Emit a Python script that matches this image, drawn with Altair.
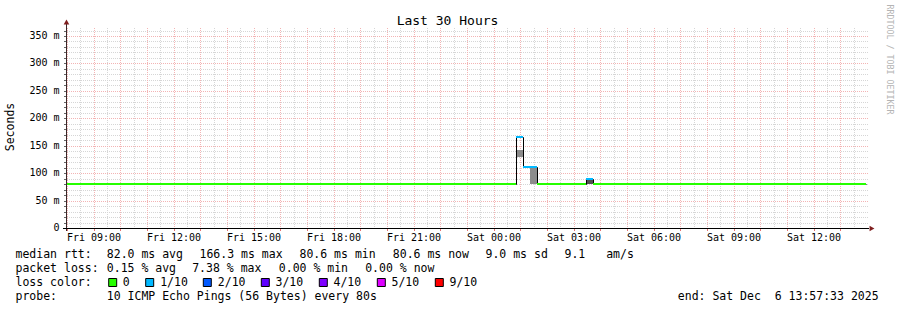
import altair as alt
import pandas as pd

# ------------------------------------------------------------------ data
# median RTT steps (time in UTC, value in ms) and loss level for each step
step_start = ["2025-12-05T07:57:33Z", "2025-12-06T00:49:20Z", "2025-12-06T01:05:00Z",
              "2025-12-06T01:36:40Z", "2025-12-06T03:27:30Z", "2025-12-06T03:44:00Z"]
step_end = ["2025-12-06T00:49:20Z", "2025-12-06T01:05:00Z", "2025-12-06T01:36:40Z",
            "2025-12-06T03:27:30Z", "2025-12-06T03:44:00Z", "2025-12-06T13:57:33Z"]
median_ms = [80.6, 166.3, 110.4, 80.6, 89.2, 80.6]
loss_level = ["0", "1/10", "1/10", "0", "1/10", "0"]

# smoke (spread of the pings)
smoke_start = ["2025-12-06T00:49:20Z", "2025-12-06T01:20:50Z", "2025-12-06T03:27:30Z"]
smoke_end = ["2025-12-06T01:05:00Z", "2025-12-06T01:36:40Z", "2025-12-06T03:44:00Z"]
smoke_low = [129.8, 80.6, 80.6]
smoke_high = [142.5, 109.0, 88.0]
smoke_shade = ["light", "light", "dark"]

# loss colour legend
loss_labels = ["0", "1/10", "2/10", "3/10", "4/10", "5/10", "9/10"]
loss_colors = ["#26ff00", "#00b8ff", "#0059ff", "#5e00ff", "#7e00ff", "#dd00ff", "#ff0000"]

# axis ticks
y_ticks = [0, 50, 100, 150, 200, 250, 300, 350]
y_tick_labels = ["0  ", "50 m", "100 m", "150 m", "200 m", "250 m", "300 m", "350 m"]
x_tick_times = ["2025-12-05T09:00:00Z", "2025-12-05T12:00:00Z", "2025-12-05T15:00:00Z",
                "2025-12-05T18:00:00Z", "2025-12-05T21:00:00Z", "2025-12-06T00:00:00Z",
                "2025-12-06T03:00:00Z", "2025-12-06T06:00:00Z", "2025-12-06T09:00:00Z",
                "2025-12-06T12:00:00Z"]
x_tick_labels = ["Fri 09:00", "Fri 12:00", "Fri 15:00", "Fri 18:00", "Fri 21:00",
                 "Sat 00:00", "Sat 03:00", "Sat 06:00", "Sat 09:00", "Sat 12:00"]
range_start = "2025-12-05T07:57:33Z"
range_end = "2025-12-06T13:57:33Z"
y_max = 364.6

# texts
title_text = "Last 30 Hours"
y_title = "Seconds"
watermark = "RRDTOOL / TOBI OETIKER"
rtt_head = "median rtt:"
rtt_stats = ["82.0 ms avg", "166.3 ms max", "80.6 ms min", "80.6 ms now", "9.0 ms sd", "9.1", "am/s"]
loss_head = "packet loss:"
loss_stats = ["0.15 % avg", "7.38 % max", "0.00 % min", "0.00 % now"]
color_head = "loss color:"
probe_head = "probe:"
probe_text = "10 ICMP Echo Pings (56 Bytes) every 80s"
end_text = "end: Sat Dec  6 13:57:33 2025"

# ------------------------------------------------------------------ layout / style
W, H = 800, 200
PL, PT = 66, 28
FONT = "DejaVu Sans Mono"
NB = "\u00a0"
MINOR = "#d6d6d6"
MAJOR = "#f3b4b4"
SMOKE_COL = {"light": "#8c8c8c", "dark": "#505050"}
LOSS_COL = dict(zip(loss_labels, loss_colors))


def ms(s):
    return int(pd.Timestamp(s).timestamp() * 1000)


def nb(s):
    return s.replace(" ", NB)


xscale = alt.Scale(type="utc", domain=[ms(range_start), ms(range_end)], round=True)
yscale = alt.Scale(domain=[0, y_max], nice=False, zero=False, round=True)

# grid positions
half_hours = pd.date_range("2025-12-05T08:00:00Z", "2025-12-06T13:30:00Z", freq="30min")
vgrid = pd.DataFrame({
    "t": [t.strftime("%Y-%m-%dT%H:%M:%SZ") for t in half_hours],
    "major": [t.minute == 0 for t in half_hours],
})
hvals = list(range(10, 361, 10))
hgrid = pd.DataFrame({"v": hvals, "major": [v % 50 == 0 for v in hvals]})


def vrule(df, col):
    return alt.Chart(df).mark_rule(color=col, strokeDash=[1, 1], strokeWidth=1, xOffset=0.5).encode(
        x=alt.X("t:T", scale=xscale, axis=None), y=alt.value(0), y2=alt.value(H))


def hrule(df, col):
    return alt.Chart(df).mark_rule(color=col, strokeDash=[1, 1], strokeWidth=1, yOffset=0.5).encode(
        y=alt.Y("v:Q", scale=yscale, axis=None), x=alt.value(1), x2=alt.value(W + 3))


g_v_minor = vrule(vgrid[~vgrid.major], MINOR)
g_h_minor = hrule(hgrid[~hgrid.major], MINOR)
g_v_major = vrule(vgrid[vgrid.major], MAJOR)
g_h_major = hrule(hgrid[hgrid.major], MAJOR)
x_small_ticks = alt.Chart(vgrid[vgrid.major]).mark_rule(color="#e07070", strokeWidth=1, xOffset=0.5).encode(
    x=alt.X("t:T", scale=xscale, axis=None), y=alt.value(H + 1), y2=alt.value(H + 3))
y_small_ticks = alt.Chart(hgrid).mark_rule(color="#666666", strokeWidth=1, yOffset=0.5).encode(
    y=alt.Y("v:Q", scale=yscale, axis=None), x=alt.value(-2), x2=alt.value(0))

# smoke
smoke_df = pd.DataFrame({"s": smoke_start, "e": smoke_end, "lo": smoke_low, "hi": smoke_high,
                         "c": [SMOKE_COL[k] for k in smoke_shade]})
smoke = alt.Chart(smoke_df).mark_rect().encode(
    x=alt.X("s:T", scale=xscale, axis=None), x2="e:T",
    y=alt.Y("lo:Q", scale=yscale, axis=None), y2="hi:Q",
    color=alt.Color("c:N", scale=None))

# black median step line
line_df = pd.DataFrame({"t": step_start + [step_end[-1]], "v": median_ms + [median_ms[-1]]})
median_line = alt.Chart(line_df).mark_line(interpolate="step-after", color="#000000", strokeWidth=1,
                                           xOffset=0.5, yOffset=0.5).encode(
    x=alt.X("t:T", scale=xscale, axis=None),
    y=alt.Y("v:Q", scale=yscale, axis=None))

# coloured median segments
seg_df = pd.DataFrame({"s": step_start, "e": step_end, "v": median_ms,
                       "c": [LOSS_COL[k] for k in loss_level]})
segments = alt.Chart(seg_df).mark_rule(strokeWidth=2).encode(
    x=alt.X("s:T", scale=xscale, axis=None), x2="e:T",
    y=alt.Y("v:Q", scale=yscale, axis=None),
    color=alt.Color("c:N", scale=None))

# tick labels drawn through the shared scales
ylab_df = pd.DataFrame({"v": y_ticks, "txt": [nb(s) for s in y_tick_labels]})
y_labels = alt.Chart(ylab_df).mark_text(align="right", baseline="middle", font=FONT, fontSize=10,
                                        color="#000000").encode(
    y=alt.Y("v:Q", scale=yscale, axis=None), x=alt.value(-6.5), text="txt:N")
xlab_df = pd.DataFrame({"t": x_tick_times, "txt": [nb(s) for s in x_tick_labels]})
x_labels = alt.Chart(xlab_df).mark_text(align="center", baseline="alphabetic", font=FONT, fontSize=10,
                                        color="#000000").encode(
    x=alt.X("t:T", scale=xscale, axis=None), y=alt.value(240.5 - PT), text="txt:N")

# axis lines and arrows
axes_df = pd.DataFrame({"x": [0.5, -3], "x2": [0.5, W + 3], "y": [H + 3, H + 0.5], "y2": [-6, H + 0.5],
                        "c": ["#3a2828", "#000000"]})
axis_lines = alt.Chart(axes_df).mark_rule(strokeWidth=1).encode(
    x=alt.X("x:Q", scale=None, axis=None), x2="x2:Q",
    y=alt.Y("y:Q", scale=None, axis=None), y2="y2:Q",
    color=alt.Color("c:N", scale=None))
arrow_df = pd.DataFrame({"x": [0.5, W + 6], "y": [-6, H + 0.5], "shape": ["triangle-up", "triangle-right"]})
arrows = alt.Chart(arrow_df).mark_point(filled=True, size=32, color="#7f1f1f", opacity=1).encode(
    x=alt.X("x:Q", scale=None, axis=None), y=alt.Y("y:Q", scale=None, axis=None),
    shape=alt.Shape("shape:N", scale=None))

# legend text (left aligned)
rows = []
b1, b2, b3, b4 = 258.3, 272.3, 286.3, 300.3
rows.append((16, b1, rtt_head))
for xx, s in zip([107.3, 200, 300, 393.3, 486, 565, 606.7], rtt_stats):
    rows.append((xx, b1, s))
rows.append((16, b2, loss_head))
for xx, s in zip([107.3, 192.7, 279.3, 365.7], loss_stats):
    rows.append((xx, b2, s))
rows.append((16, b3, color_head))
label_x = [123.3, 160.7, 218.3, 276, 334, 392, 450]
for xx, s in zip(label_x, loss_labels):
    rows.append((xx, b3, s))
rows.append((16, b4, probe_head))
rows.append((107.3, b4, probe_text))
rows.append((678.3, b4, end_text))
leg_df = pd.DataFrame({"x": [r[0] - PL - 0.5 for r in rows], "y": [r[1] - PT for r in rows],
                       "txt": [nb(r[2]) for r in rows]})
legend_text = alt.Chart(leg_df).mark_text(align="left", baseline="alphabetic", font=FONT, fontSize=11.5,
                                          color="#000000").encode(
    x=alt.X("x:Q", scale=None, axis=None), y=alt.Y("y:Q", scale=None, axis=None), text="txt:N")

square_x = [108.7, 145.7, 203.3, 261.3, 319.3, 377.3, 435.3]
sq_df = pd.DataFrame({"x": [v - PL for v in square_x], "x2": [v - PL + 8 for v in square_x],
                      "y": [278.5 - PT] * 7, "y2": [286.5 - PT] * 7, "c": loss_colors})
squares = alt.Chart(sq_df).mark_rect(stroke="#000000", strokeWidth=1).encode(
    x=alt.X("x:Q", scale=None, axis=None), x2="x2:Q",
    y=alt.Y("y:Q", scale=None, axis=None), y2="y2:Q",
    fill=alt.Fill("c:N", scale=None))

title_df = pd.DataFrame({"x": [447.5 - PL], "y": [24.5 - PT], "txt": [title_text]})
title = alt.Chart(title_df).mark_text(align="center", baseline="alphabetic", font=FONT, fontSize=13,
                                      color="#000000").encode(
    x=alt.X("x:Q", scale=None, axis=None), y=alt.Y("y:Q", scale=None, axis=None), text="txt:N")

ytitle_df = pd.DataFrame({"x": [11 - PL], "y": [127 - PT], "txt": [y_title]})
ytitle = alt.Chart(ytitle_df).mark_text(align="center", baseline="middle", angle=270, font=FONT,
                                        fontSize=11.5, color="#000000").encode(
    x=alt.X("x:Q", scale=None, axis=None), y=alt.Y("y:Q", scale=None, axis=None), text="txt:N")

wm_df = pd.DataFrame({"x": [888.5 - PL], "y": [4.5 - PT], "txt": [watermark]})
wmark = alt.Chart(wm_df).mark_text(align="left", baseline="middle", angle=90, font=FONT,
                                   fontSize=8.3, color="#b4b4b4").encode(
    x=alt.X("x:Q", scale=None, axis=None), y=alt.Y("y:Q", scale=None, axis=None), text="txt:N")

chart = alt.layer(
    g_v_minor, g_h_minor, g_v_major, g_h_major, x_small_ticks, y_small_ticks,
    smoke, median_line, segments, axis_lines, arrows, y_labels, x_labels,
    legend_text, squares, title, ytitle, wmark,
).properties(
    width=W, height=H,
    autosize=alt.AutoSizeParams(type="none"),
    padding={"left": PL, "top": PT, "right": 897 - PL - W, "bottom": 310 - PT - H},
    background="#ffffff",
).configure_view(stroke=None)

chart.save("out.html", embed_options={"renderer": "svg", "actions": False})
